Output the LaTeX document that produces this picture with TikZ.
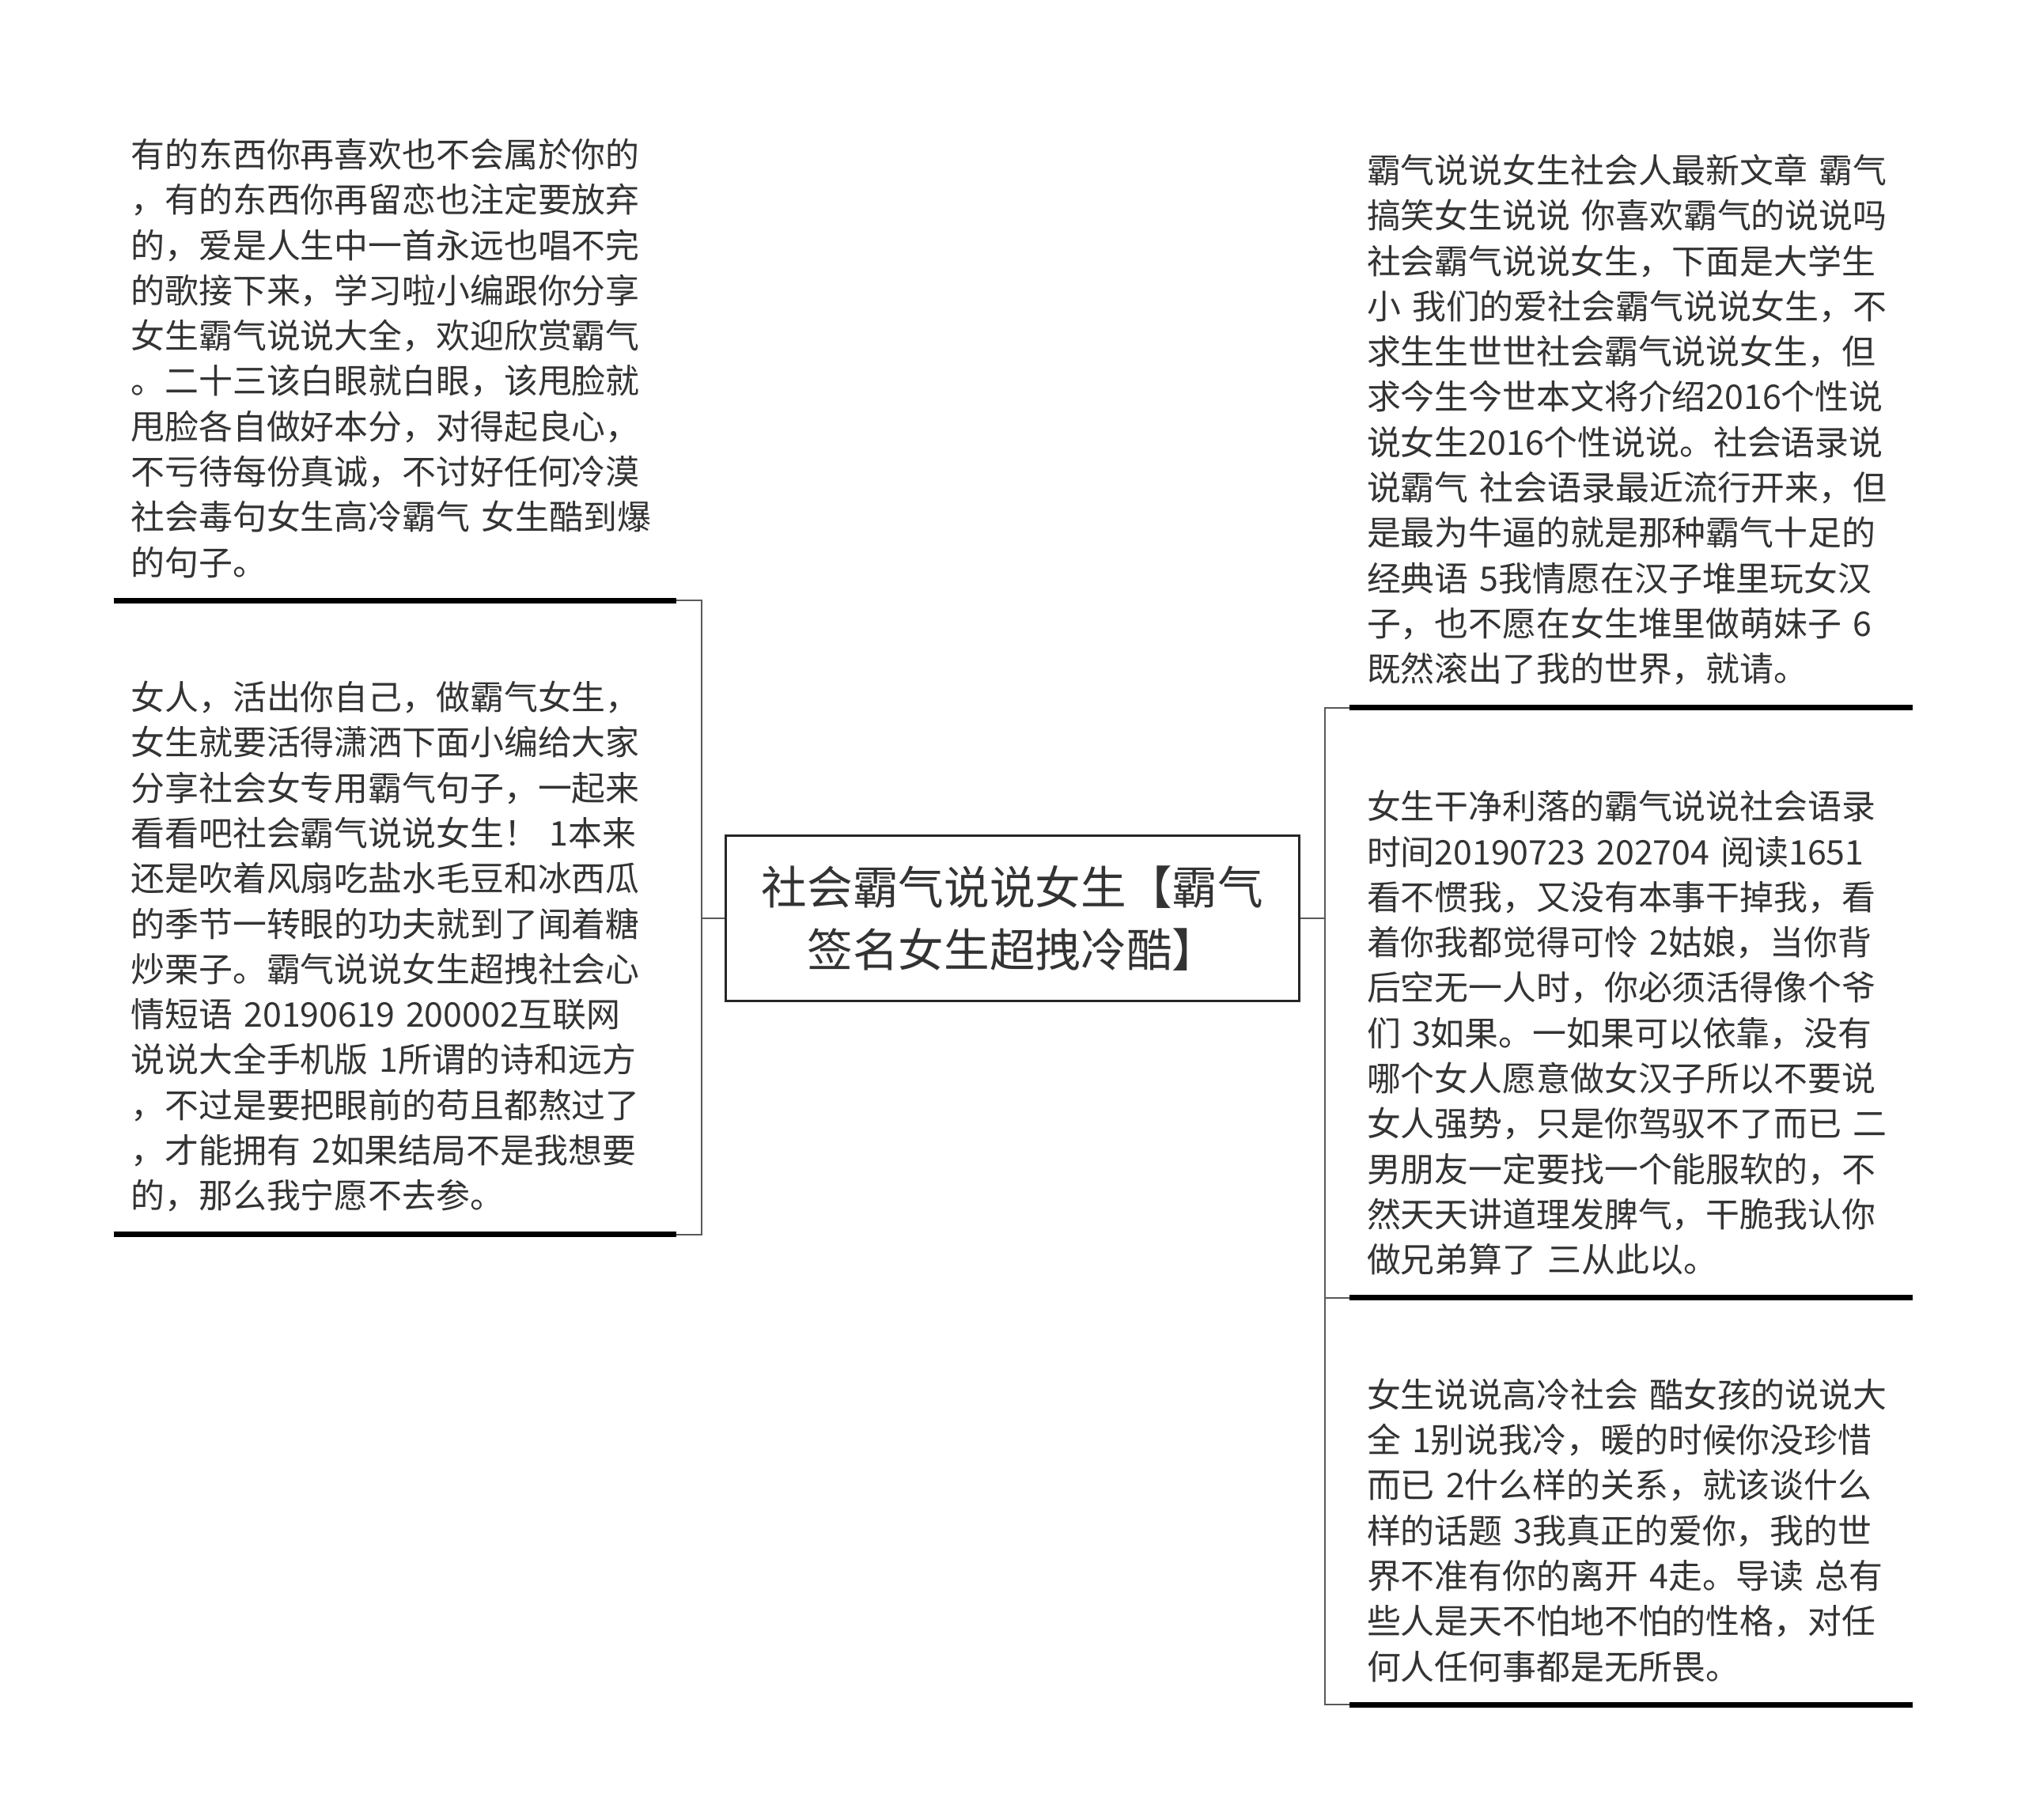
\documentclass[tikz,border=0pt]{standalone}
\usepackage{fontspec}
\setmainfont{Noto Sans CJK SC}
\usetikzlibrary{positioning}

\begin{document}
\begin{tikzpicture}[
    x=0.016327cm, y=-0.016327cm,
    font=\fontsize{12.2pt}{16.3pt}\selectfont,
    text=black!80,
    root_box/.style={draw=black!85, line width=0.7pt, minimum width=7.25cm, minimum height=2.09cm, align=center, font=\fontsize{16.4pt}{22.3pt}\selectfont},
    leaf_box/.style={anchor=south west, minimum width=7.102cm, text width=6.678cm, inner xsep=0.212cm, inner ysep=0.278cm, align=left},
    link/.style={draw=black!65, line width=0.57pt},
    under/.style={draw=black, line width=2pt}
]
\useasboundingbox (0,0) rectangle (1568,1409);

% Central topic
\node[root_box] (root) at (784,711) {社会霸气说说女生【霸气\\签名女生超拽冷酷】};

% Left branches
\node[leaf_box] (l1) at (88,465) {有的东西你再喜欢也不会属於你的\\，有的东西你再留恋也注定要放弃\\的，爱是人生中一首永远也唱不完\\的歌接下来，学习啦小编跟你分享\\女生霸气说说大全，欢迎欣赏霸气\\。二十三该白眼就白眼，该甩脸就\\甩脸各自做好本分，对得起良心，\\不亏待每份真诚，不讨好任何冷漠\\社会毒句女生高冷霸气 女生酷到爆\\的句子。};
\node[leaf_box] (l2) at (88,956) {女人，活出你自己，做霸气女生，\\女生就要活得潇洒下面小编给大家\\分享社会女专用霸气句子，一起来\\看看吧社会霸气说说女生！ 1本来\\还是吹着风扇吃盐水毛豆和冰西瓜\\的季节一转眼的功夫就到了闻着糖\\炒栗子。霸气说说女生超拽社会心\\情短语 20190619 200002互联网\\说说大全手机版 1所谓的诗和远方\\，不过是要把眼前的苟且都熬过了\\，才能拥有 2如果结局不是我想要\\的，那么我宁愿不去参。};

% Right branches
\node[leaf_box] (r1) at (1045,548) {霸气说说女生社会人最新文章 霸气\\搞笑女生说说 你喜欢霸气的说说吗\\社会霸气说说女生，下面是大学生\\小 我们的爱社会霸气说说女生，不\\求生生世世社会霸气说说女生，但\\求今生今世本文将介绍2016个性说\\说女生2016个性说说。社会语录说\\说霸气 社会语录最近流行开来，但\\是最为牛逼的就是那种霸气十足的\\经典语 5我情愿在汉子堆里玩女汉\\子，也不愿在女生堆里做萌妹子 6\\既然滚出了我的世界，就请。};
\node[leaf_box] (r2) at (1045,1005) {女生干净利落的霸气说说社会语录\\时间20190723 202704 阅读1651\\看不惯我，又没有本事干掉我，看\\着你我都觉得可怜 2姑娘，当你背\\后空无一人时，你必须活得像个爷\\们 3如果。一如果可以依靠，没有\\哪个女人愿意做女汉子所以不要说\\女人强势，只是你驾驭不了而已 二\\男朋友一定要找一个能服软的，不\\然天天讲道理发脾气，干脆我认你\\做兄弟算了 三从此以。};
\node[leaf_box] (r3) at (1045,1320) {女生说说高冷社会 酷女孩的说说大\\全 1别说我冷，暖的时候你没珍惜\\而已 2什么样的关系，就该谈什么\\样的话题 3我真正的爱你，我的世\\界不准有你的离开 4走。导读 总有\\些人是天不怕地不怕的性格，对任\\何人任何事都是无所畏。};

% Connectors
\coordinate (spine_l) at (543,711);
\coordinate (spine_r) at (1026,711);
\draw[link] (root.west) -- (spine_l) |- (l1.south east);
\draw[link] (spine_l) |- (l2.south east);
\draw[link] (root.east) -- (spine_r) |- (r1.south west);
\draw[link] (spine_r) |- (r2.south west);
\draw[link] (spine_r) |- (r3.south west);

% Underlines
\foreach \n in {l1,l2,r1,r2,r3}
    \draw[under] (\n.south west) -- (\n.south east);

\end{tikzpicture}
\end{document}
